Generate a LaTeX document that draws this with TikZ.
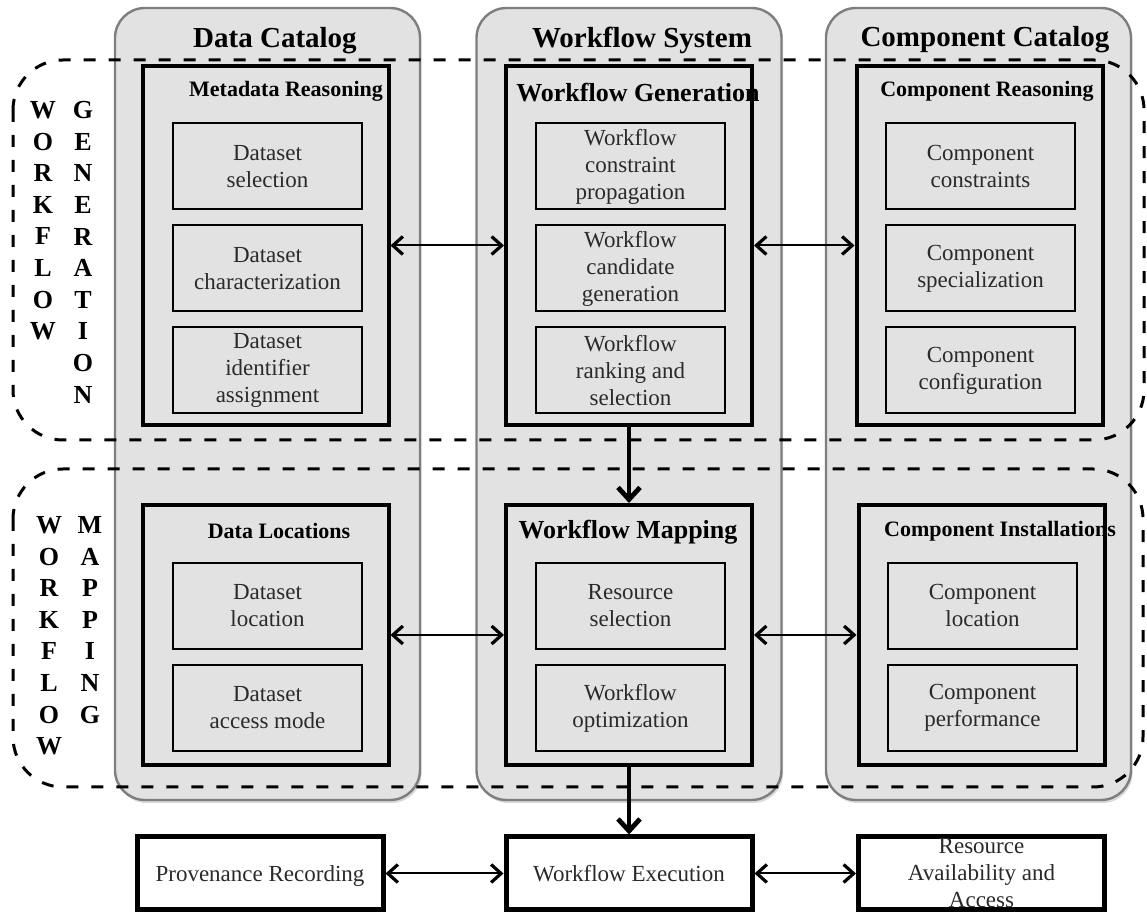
\documentclass[tikz,border=0pt]{standalone}
\usepackage{fontspec}
\setmainfont{Liberation Serif}
\usepackage{tikz}
\usetikzlibrary{arrows.meta,shadows,positioning}
\definecolor{colgray}{HTML}{E2E2E2}
\definecolor{coledge}{HTML}{7E7E7E}
\definecolor{txtgray}{HTML}{2A2A2A}

\begin{document}
\begin{tikzpicture}[x=0.5pt,y=-0.5pt,
  catcol/.style={draw=coledge,line width=1.2pt,fill=colgray,rounded corners=15pt,
    minimum width=152.5pt,minimum height=396pt,
    drop shadow={shadow xshift=0.8pt,shadow yshift=-1.5pt,opacity=0.3}},
  coltitle/.style={font=\fontsize{14.5}{16}\selectfont\bfseries},
  phase/.style={draw=black,line width=2pt,fill=colgray,minimum width=123pt},
  phasetitle/.style={font=\fontsize{11}{13}\selectfont\bfseries},
  bigtitle/.style={font=\fontsize{13}{15}\selectfont\bfseries},
  task/.style={draw=black,line width=1pt,fill=colgray,minimum width=94.5pt,minimum height=43pt,
    align=center,inner sep=1pt,text=txtgray,font=\fontsize{11.5}{13.5}\selectfont},
  service/.style={draw=black,line width=2.5pt,fill=white,minimum width=123pt,minimum height=36.5pt,
    align=center,inner sep=0pt,text=txtgray,font=\fontsize{11.5}{13.5}\selectfont},
  oneline/.style={text height=10.5pt,text depth=2pt},
  region/.style={dash pattern=on 6pt off 6.5pt,line width=1.5pt,rounded corners=25pt},
  letters/.style={align=center,anchor=north,inner sep=0pt,font=\fontsize{13}{15.8}\selectfont\bfseries},
  linkarrow/.style={{Straight Barb[length=5pt,width=9pt,line width=1.6pt]}-{Straight Barb[length=5pt,width=9pt,line width=1.6pt]},line width=1pt},
  flowarrow/.style={-{Straight Barb[length=6pt,width=11pt,line width=2.4pt]},line width=2pt},
  node distance=7pt]
  \useasboundingbox (0,0) rectangle (1147,913);

  % catalog columns
  \node[catcol] (dcat) at (267.5,404) {};
  \node[catcol] (wsys) at (629,404) {};
  \node[catcol] (ccat) at (978.5,404) {};
  \node[coltitle] (dcatT) at (275,41) {Data Catalog};
  \node[coltitle] (wsysT) at (642,40) {Workflow System};
  \node[coltitle] (ccatT) at (985,40) {Component Catalog};

  % phases
  \draw[region] (13,60) rectangle (1144,440);
  \draw[region] (13,469) rectangle (1143,787);

  \node[letters] (genA) at (43,101) {W\\O\\R\\K\\F\\L\\O\\W};
  \node[letters] (genB) at (83,101) {G\\E\\N\\E\\R\\A\\T\\I\\O\\N};
  \node[letters] (mapA) at (49,516) {W\\O\\R\\K\\F\\L\\O\\W};
  \node[letters] (mapB) at (90,516) {M\\A\\P\\P\\I\\N\\G};

  % workflow generation
  \node[phase,minimum height=179.5pt] (mdr) at (265.5,245.5) {};
  \node[phase,minimum height=179.5pt] (wfg) at (629,245.5) {};
  \node[phase,minimum height=179.5pt] (cre) at (979.5,245.5) {};
  \node[phasetitle] (mdrT) at (286,91) {Metadata Reasoning};
  \node[bigtitle] (wfgT) at (638,93) {Workflow Generation};
  \node[phasetitle] (creT) at (987,91) {Component Reasoning};

  \node[task] (dsel) at (267.5,166.5) {Dataset\\selection};
  \node[task,below=of dsel] (dchar) {Dataset\\characterization};
  \node[task,below=of dchar] (did) {Dataset\\identifier\\assignment};

  \node[task] (wcon) at (630.5,166.5) {Workflow\\constraint\\propagation};
  \node[task,below=of wcon] (wcand) {Workflow\\candidate\\generation};
  \node[task,below=of wcand] (wrank) {Workflow\\ranking and\\selection};

  \node[task] (ccon) at (980.5,166.5) {Component\\constraints};
  \node[task,below=of ccon] (cspec) {Component\\specialization};
  \node[task,below=of cspec] (cconf) {Component\\configuration};

  % workflow mapping
  \node[phase,minimum height=130pt] (dloc) at (265.5,635) {};
  \node[phase,minimum height=130pt] (wfm) at (629,635) {};
  \node[phase,minimum height=130pt] (cins) at (981.5,635) {};
  \node[phasetitle] (dlocT) at (279,531) {Data Locations};
  \node[bigtitle] (wfmT) at (628,532) {Workflow Mapping};
  \node[phasetitle] (cinsT) at (1000,531) {Component Installations};

  \node[task] (dsloc) at (267.5,606) {Dataset\\location};
  \node[task,below=of dsloc] (dacc) {Dataset\\access mode};
  \node[task] (rsel) at (630.5,606) {Resource\\selection};
  \node[task,below=of rsel] (wopt) {Workflow\\optimization};
  \node[task] (cloc) at (982.5,606) {Component\\location};
  \node[task,below=of cloc] (cperf) {Component\\performance};

  % execution services
  \node[service,oneline] (prov) at (260,873.5) {Provenance Recording};
  \node[service,oneline] (wexe) at (629,873.5) {Workflow Execution};
  \node[service] (rav) at (981.5,873.5) {\parbox[c][30pt][c]{120pt}{\centering Resource\\Availability and\\Access}};

  \draw[linkarrow] (mdr) -- (wfg);
  \draw[linkarrow] (wfg) -- (cre);
  \draw[linkarrow] (dloc) -- (wfm);
  \draw[linkarrow] (wfm) -- (cins);
  \draw[linkarrow] (prov) -- (wexe);
  \draw[linkarrow] (wexe) -- (rav);
  \draw[flowarrow] (wfg) -- (wfm);
  \draw[flowarrow] (wfm) -- (wexe);
\end{tikzpicture}
\end{document}
